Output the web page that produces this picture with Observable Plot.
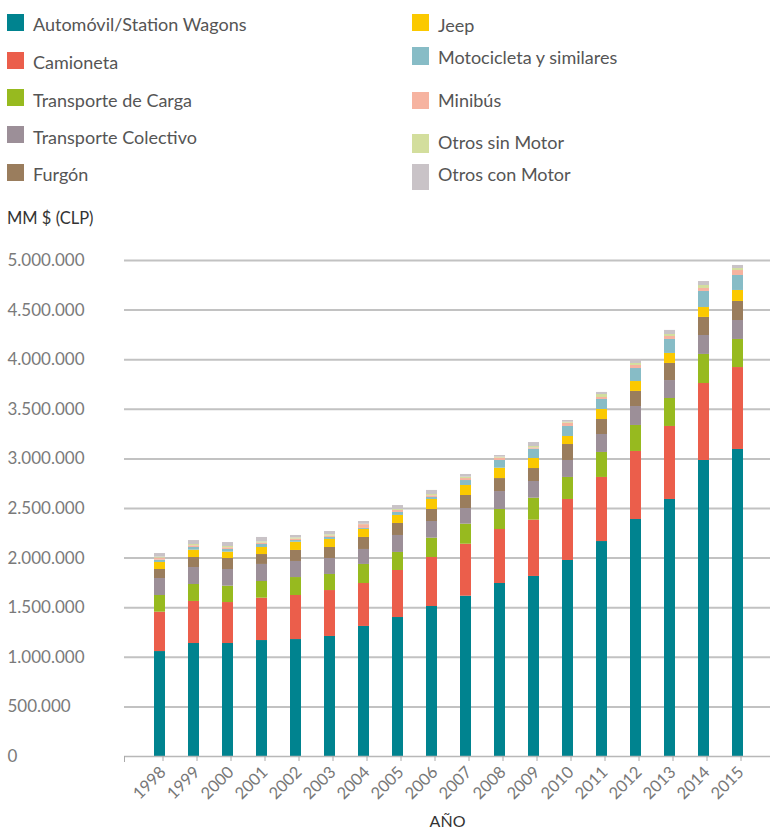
<!DOCTYPE html>
<html><head><meta charset="utf-8">
<script src="https://cdn.jsdelivr.net/npm/d3@7"></script>
<script src="https://cdn.jsdelivr.net/npm/@observablehq/plot@0.6"></script>
<style>
body{margin:0;background:#fff;font-family:Lato,sans-serif;}
#wrap{position:relative;width:770px;height:832px;overflow:hidden;}
.sw{position:absolute;width:17px;height:17px;}
.lt{position:absolute;font-size:18px;color:#555;line-height:22px;white-space:nowrap;}
#unit{position:absolute;left:7px;top:207px;font-size:16.5px;color:#333;line-height:22px;}
#chart{position:absolute;left:0;top:230px;}
</style></head><body>
<div id="wrap"><div id="legend"></div><div id="unit">MM $ (CLP)</div><div id="chart"></div></div>
<script>
const years = ["1998","1999","2000","2001","2002","2003","2004","2005","2006","2007","2008","2009","2010","2011","2012","2013","2014","2015"];
const categories = ["Automóvil/Station Wagons","Camioneta","Transporte de Carga","Transporte Colectivo","Furgón","Jeep","Motocicleta y similares","Minibús","Otros sin Motor","Otros con Motor"];
const colors = ["#00838f","#eb5e4b","#97ba1f","#9c8f98","#9a7d5d","#fbc900","#87bcc6","#f6b3a0","#d3de9d","#c9c3c7"];
const yTicks = [500000,1000000,1500000,2000000,2500000,3000000,3500000,4000000,4500000,5000000];

// values in MM $ (CLP), one array per category, one value per year
const automovil   = [1058000,1139000,1139000,1169000,1179000,1210000,1311000,1401000,1512000,1616000,1744000,1815000,1976000,2167000,2389000,2591000,2984000,3095000];
const camioneta   = [397000,424000,413000,427000,444000,463000,433000,474000,494000,524000,544000,568000,615000,646000,686000,736000,776000,826000];
const carga       = [168000,171000,165000,168000,181000,162000,192000,182000,195000,202000,202000,221000,222000,252000,262000,282000,293000,283000];
const colectivo   = [171000,171000,168000,172000,162000,161000,151000,171000,168000,158000,181000,168000,171000,181000,191000,181000,191000,191000];
const furgon      = [91000,101000,111000,100000,111000,111000,121000,121000,121000,131000,131000,131000,161000,151000,152000,172000,182000,192000];
const jeep        = [71000,74000,64000,71000,83000,81000,81000,81000,101000,101000,104000,101000,81000,101000,100000,101000,100000,111000];
const motocicleta = [23000,27000,27000,30000,17000,20000,10000,30000,20000,50000,78000,94000,101000,101000,131000,141000,162000,151000];
const minibus     = [21000,17000,17000,13000,14000,13000,38000,20000,17000,20000,24000,13000,33000,20000,31000,30000,30000,50000];
const otrosSin    = [10000,13000,13000,14000,13000,14000,4000,10000,13000,14000,10000,14000,10000,30000,20000,20000,30000,20000];
const otrosCon    = [36000,40000,40000,44000,24000,33000,28000,40000,41000,27000,16000,40000,17000,21000,40000,41000,40000,31000];

const series = [automovil,camioneta,carga,colectivo,furgon,jeep,motocicleta,minibus,otrosSin,otrosCon];
const rows = [];
years.forEach((yr, i) => {
  categories.forEach((cat, j) => rows.push({year: yr, category: cat, value: series[j][i]}));
});

// legend layout: [swatchLeft, swatchTop, swatchHeight, textLeft, textCenterY]
const legendLayout = [
  [7,14,17,33,24],[7,52,17,33,62],[7,89,17,33,100],[7,126,17,33,137],[7,164,17,33,174],
  [412,14,17,438,25],[412,47,18,438,57],[412,92,17,438,100],[412,134,19,438,142],[412,164,26,438,174]
];
const leg = document.getElementById("legend");
categories.forEach((cat, j) => {
  const [sl, st, sh, tl, tc] = legendLayout[j];
  const s = document.createElement("div");
  s.className = "sw"; s.style.left = sl + "px"; s.style.top = st + "px"; s.style.height = sh + "px"; s.style.background = colors[j];
  const t = document.createElement("div");
  t.className = "lt"; t.style.left = tl + "px"; t.style.top = (tc - 11) + "px"; t.textContent = cat;
  leg.appendChild(s); leg.appendChild(t);
});

const fmt = d => d3.format(",")(d).replace(/,/g, ".");
const chart = Plot.plot({
  width: 770, height: 602,
  marginTop: 30, marginBottom: 76, marginLeft: 124, marginRight: 0,
  style: {fontFamily: "Lato, sans-serif", background: "transparent"},
  x: {domain: years, paddingInner: 0.679, paddingOuter: 0.773, align: 0.53, label: null},
  y: {domain: [0, 5000000], label: null},
  color: {domain: categories, range: colors},
  marks: [
    Plot.gridY(yTicks, {stroke: "#c2c2c2", strokeOpacity: 1, strokeWidth: 2}),
    Plot.barY(rows, {x: "year", y: "value", fill: "category"}),
    Plot.ruleY([0], {stroke: "#b8b8b8", strokeWidth: 1.5}),
    Plot.frame({anchor: "left", stroke: "#aaa", insetTop: 496, insetBottom: -5}),
    Plot.axisY([0, ...yTicks], {tickSize: 0, tickPadding: 0, textAnchor: "start", dx: -117, tickFormat: fmt, fontSize: 17, fill: "#7a7a7a", label: null}),
    Plot.axisX({tickSize: 5, tickPadding: 8, tickRotate: -45, dx: 3, fontSize: 16.5, fill: "#777", stroke: "#aaa", label: null}),
    Plot.text(["AÑO"], {frameAnchor: "bottom", dy: 70, fontSize: 16, fill: "#333"})
  ]
});
document.getElementById("chart").appendChild(chart);
</script>
</body></html>
